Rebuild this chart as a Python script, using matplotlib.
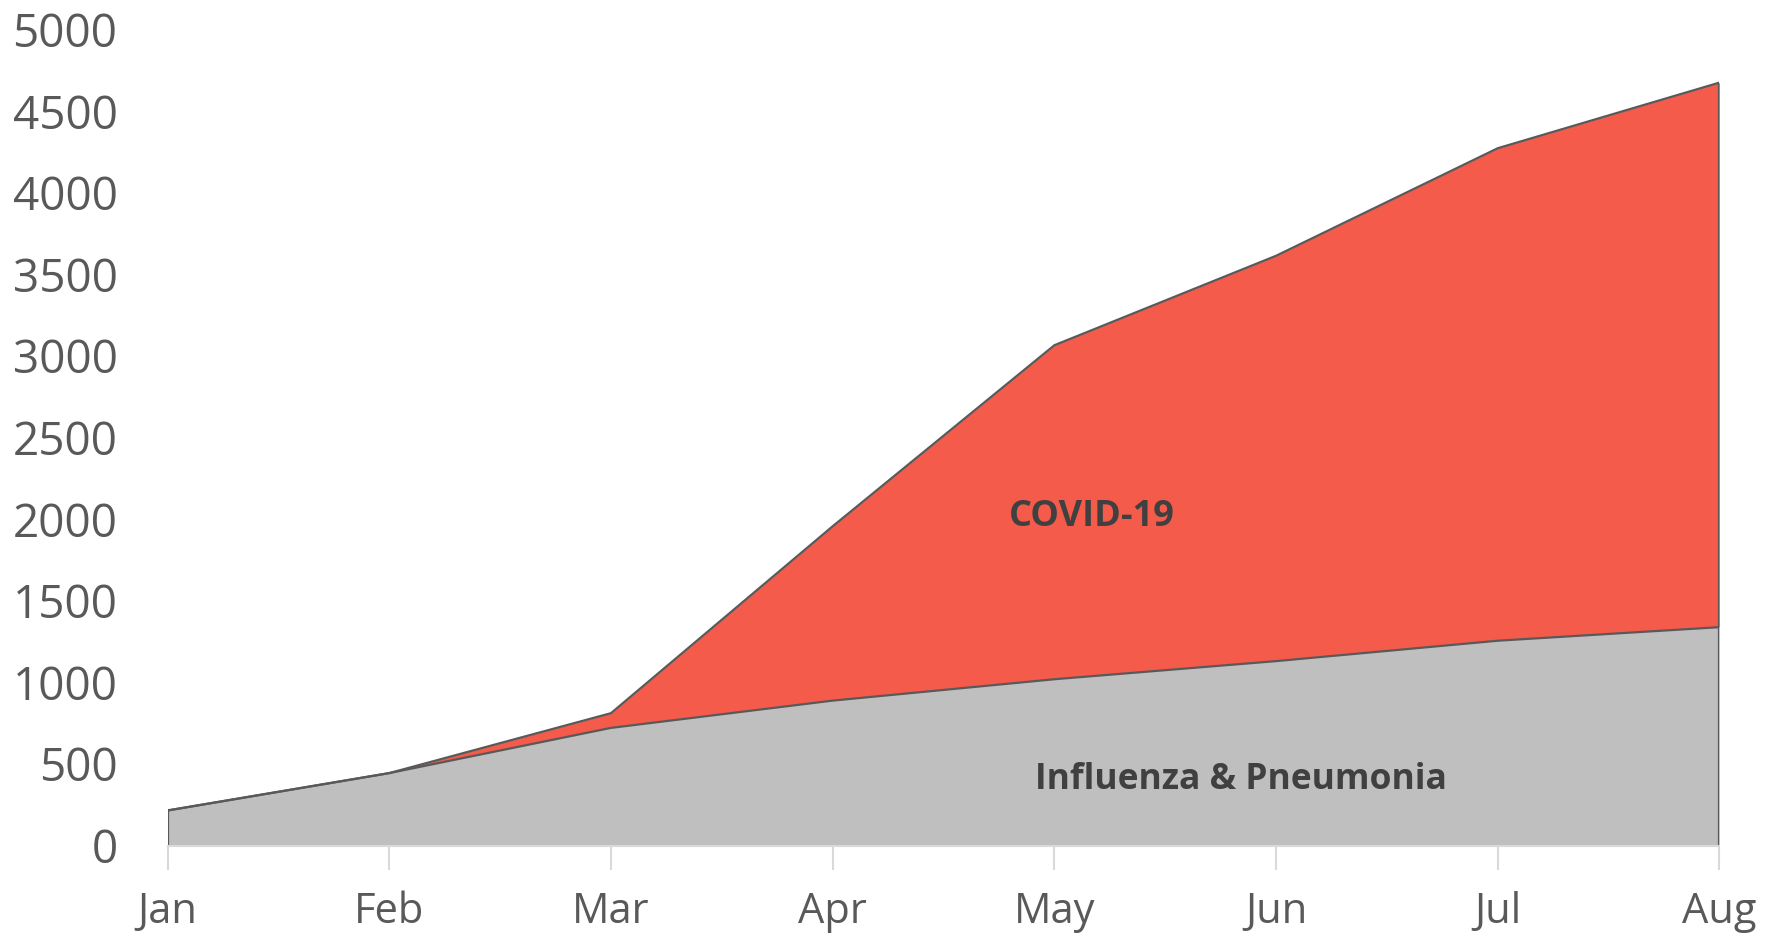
import matplotlib
matplotlib.use("Agg")
import matplotlib.pyplot as plt
import numpy as np

months = ["Jan", "Feb", "Mar", "Apr", "May", "Jun", "Jul", "Aug"]
influenza = [215, 444, 721, 888, 1019, 1130, 1255, 1338]
covid = [0, 0, 90, 1068, 2046, 2483, 3017, 3336]
yticks = [0, 500, 1000, 1500, 2000, 2500, 3000, 3500, 4000, 4500, 5000]

plt.rcParams['font.family'] = ['Open Sans', 'DejaVu Sans']

fig = plt.figure(figsize=(17.75, 9.33), dpi=100)
ax = fig.add_axes([0.0944, 0.0937, 0.8743, 0.8748])

x = np.arange(len(months))
flu = np.array(influenza)
tot = flu + np.array(covid)

ax.fill_between(x, 0, flu, color="#BFBFBF", linewidth=0)
ax.fill_between(x, flu, tot, color="#F55B4B", linewidth=0)
edge = "#595959"
ax.plot(x, flu, color=edge, linewidth=1.6, solid_joinstyle='round')
ax.plot(x, tot, color=edge, linewidth=1.6, solid_joinstyle='round')
ax.plot([x[0], x[0]], [0, flu[0]], color=edge, linewidth=1.6)
ax.plot([x[-1], x[-1]], [0, tot[-1]], color=edge, linewidth=1.6)

ax.set_xlim(0, len(months) - 1)
ax.set_ylim(0, 5000)
ax.set_xticks(x)
ax.set_xticklabels(months)
ax.set_yticks(yticks)
ax.set_yticklabels([str(v) for v in yticks])

for s in ["top", "right", "left"]:
    ax.spines[s].set_visible(False)
ax.spines["bottom"].set_color("#D9D9D9")
ax.spines["bottom"].set_linewidth(1.5)
ax.tick_params(axis="x", length=17, width=1.5, color="#D9D9D9", labelsize=30,
               labelcolor="#595959", pad=16)
ax.tick_params(axis="y", length=0, labelsize=33, labelcolor="#595959", pad=36)

ax.text(4.17, 2010, "COVID-19", ha="center", va="center", fontsize=26,
        fontweight="bold", color="#404040")
ax.text(4.84, 400, "Influenza & Pneumonia", ha="center", va="center", fontsize=25.5,
        fontweight="bold", color="#404040")

fig.savefig("out.png", dpi=100)
